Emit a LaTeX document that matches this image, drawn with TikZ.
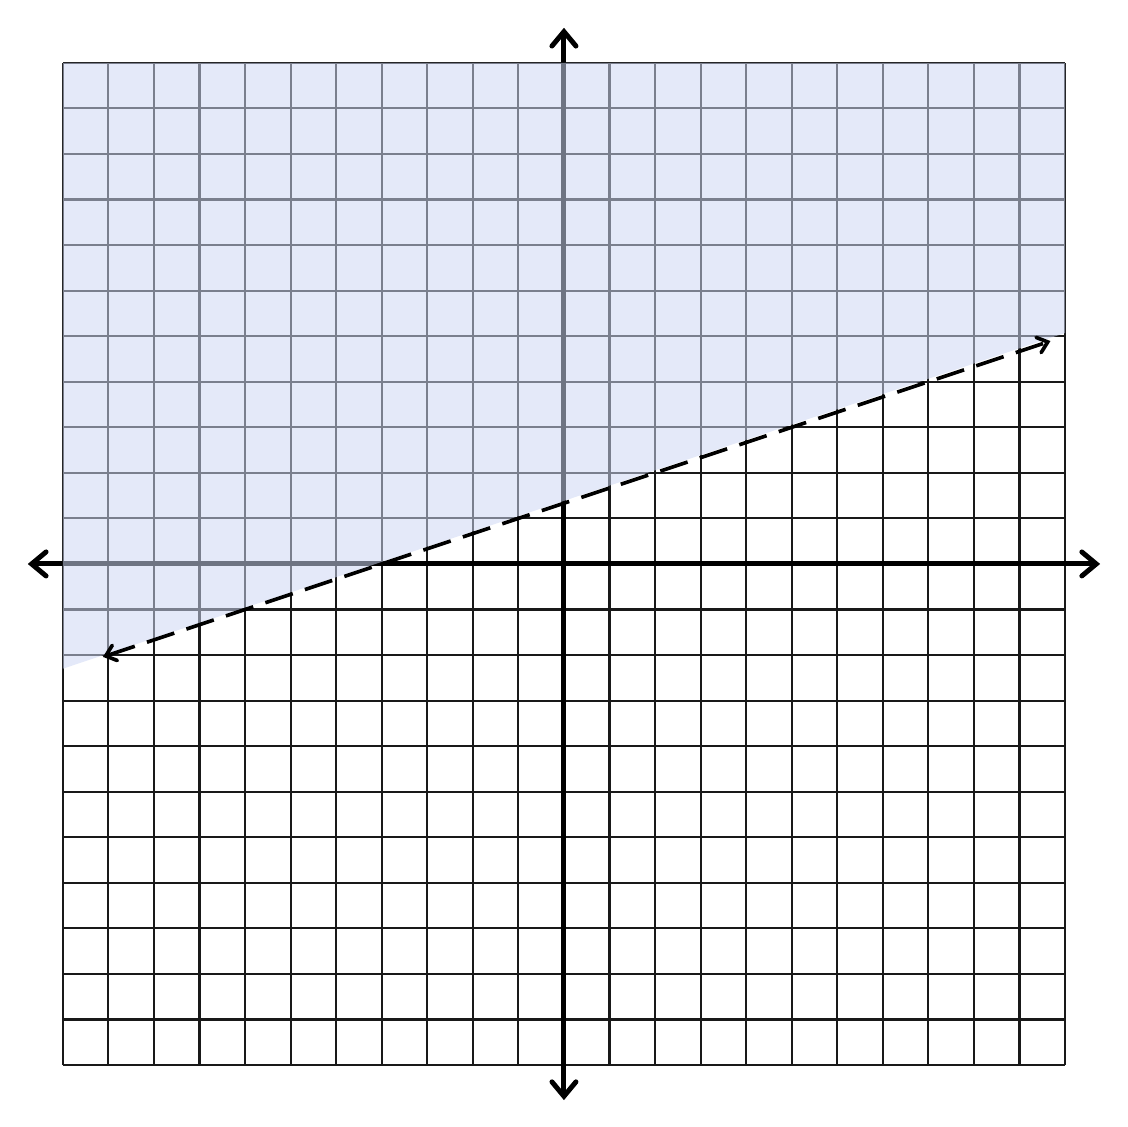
\documentclass[tikz,border=0pt]{standalone}
\usetikzlibrary{arrows.meta}
\definecolor{shade}{RGB}{205,215,243}
\tikzset{
  gridline/.style={line width=1.3pt, draw=black!90},
  axisline/.style={line width=3.1pt, black, {Straight Barb[length=9pt,width=15pt,line cap=round]}-{Straight Barb[length=9pt,width=15pt,line cap=round]}},
  boundary/.style={line width=2.3pt, black, dash pattern=on 18pt off 8pt, {Straight Barb[length=6pt,width=10pt,line cap=round]}-{Straight Barb[length=6pt,width=10pt,line cap=round]}},
  region/.style={fill=shade, fill opacity=0.54, draw=none}
}
\begin{document}
\begin{tikzpicture}
\useasboundingbox (-12.38,-12.36) rectangle (12.36,12.38);
\draw[gridline] (-11,-11) grid (11,11);
\coordinate (xl) at (-11.77,0);
\coordinate (xr) at (11.77,0);
\coordinate (yb) at (0,-11.77);
\coordinate (yt) at (0,11.77);
\draw[axisline] (xl) -- (xr);
\draw[axisline] (yb) -- (yt);
\fill[region] (-11,-2.3) -- (-11,11) -- (11,11) -- (11,5.07) -- cycle;
\coordinate (la) at (-10.12,-2.04);
\coordinate (lb) at (10.68,4.893);
\draw[boundary] (la) -- (lb);
\end{tikzpicture}
\end{document}
